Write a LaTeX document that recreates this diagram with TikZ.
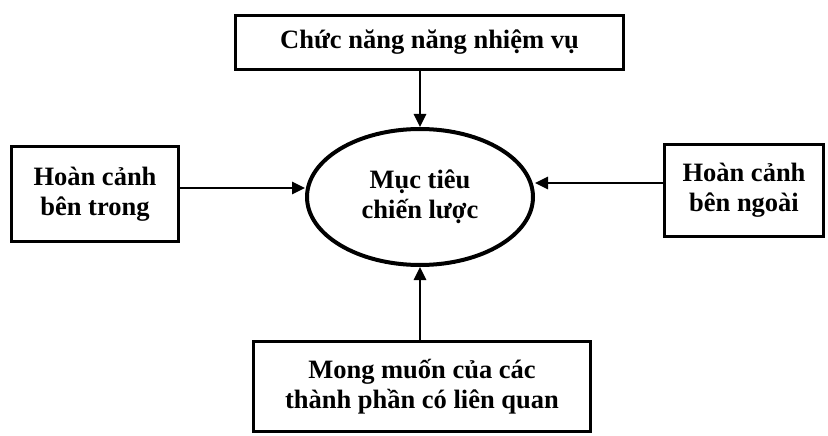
\documentclass[tikz,border=0pt]{standalone}
\usepackage{fontspec}
\setmainfont{Liberation Serif}
\usetikzlibrary{arrows.meta,shapes.geometric}

\tikzset{
  label text/.style={font=\bfseries\fontsize{26.5}{30}\selectfont, align=center, text=black},
  box/.style={label text, draw=black, line width=2.6pt, rectangle, inner sep=0pt},
  goalshape/.style={label text, draw=black, line width=4pt, ellipse, inner sep=0pt},
  feed/.style={draw=black, line width=2.7pt, -{Triangle[length=13pt,width=12pt]}}
}

\begin{document}
\begin{tikzpicture}[x=1pt,y=-1pt]
  \useasboundingbox[fill=white] (0,0) rectangle (828,436);

  % central ellipse
  \node[goalshape, minimum width=226pt, minimum height=136pt] (goal) at (420,197)
    {Mục tiêu\\chiến lược};

  % surrounding factors
  \node[box, minimum width=388pt, minimum height=54pt] (duty) at (429.5,42.5)
    {Chức năng năng nhiệm vụ};
  \node[box, minimum width=167pt, minimum height=95pt] (inner) at (95,194)
    {Hoàn cảnh\\bên trong};
  \node[box, minimum width=159pt, minimum height=92pt] (outer) at (744,190.5)
    {Hoàn cảnh\\bên ngoài};
  \node[box, minimum width=337pt, minimum height=90pt] (wish) at (422,386.5)
    {Mong muốn của các\\thành phần có liên quan};

  % influences pointing at the ellipse
  \draw[feed] (goal.north |- duty.south) -- (goal.north);
  \draw[feed] ([yshift=6pt]inner.east) coordinate (ia) -- (ia -| goal.west);
  \draw[feed] ([yshift=7.5pt]outer.west) coordinate (oa) -- (oa -| goal.east);
  \draw[feed] (goal.south |- wish.north) -- (goal.south);
\end{tikzpicture}
\end{document}
